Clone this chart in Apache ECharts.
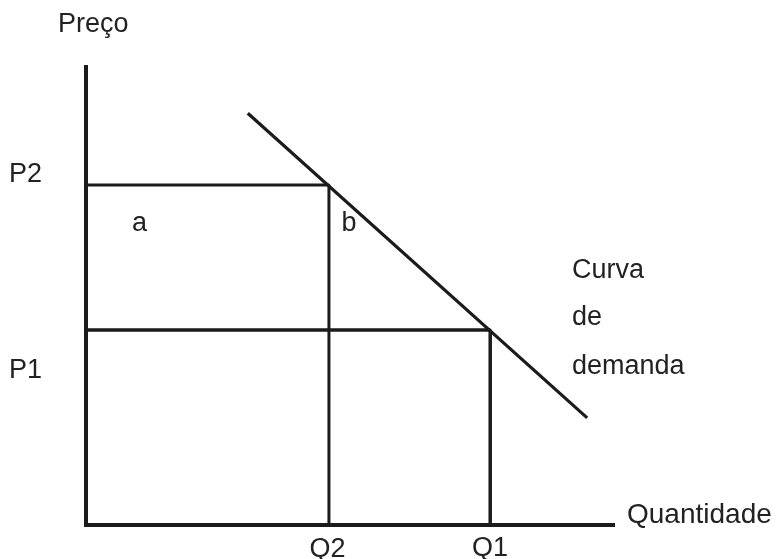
<!DOCTYPE html>
<html>
<head>
<meta charset="utf-8">
<script src="https://cdn.jsdelivr.net/npm/echarts@6/dist/echarts.min.js"></script>
<style>html,body{margin:0;padding:0;background:#fff;}#c{width:779px;height:559px;}</style>
</head>
<body>
<div id="c"></div>
<script>
// Quantities (x) and prices (y), in axis units 0..100
var quantities = { Q2: 46.1, Q1: 76.7 };
var prices = { P2: 74.2, P1: 42.5 };
var demandX = [30.7, 95.1];
var demandY = [89.9, 23.3];
var xLabels = ['Q2', 'Q1'];
var yLabels = ['P2', 'P1'];

var ink = '#1c1a1a';
var font = "'Liberation Sans', Arial, Helvetica, sans-serif";

function txt(text, x, y, align, size) {
  return {
    type: 'text', x: x, y: y, silent: true,
    style: { text: text, fill: '#222', font: (size || 27) + 'px ' + font,
             align: align || 'left', verticalAlign: 'middle' }
  };
}

var chart = echarts.init(document.getElementById('c'), null, { renderer: 'canvas' });
chart.setOption({
  animation: false,
  backgroundColor: '#fff',
  grid: { left: 86, right: 166, top: 67, bottom: 34.5, containLabel: false },
  xAxis: {
    type: 'value', min: 0, max: 100,
    axisLine: { show: true, lineStyle: { color: ink, width: 4, cap: 'square' } },
    axisTick: { show: false }, axisLabel: { show: false }, splitLine: { show: false }
  },
  yAxis: {
    type: 'value', min: 0, max: 100,
    axisLine: { show: true, lineStyle: { color: ink, width: 4, cap: 'square' } },
    axisTick: { show: false }, axisLabel: { show: false }, splitLine: { show: false }
  },
  series: [
    {
      type: 'line', symbol: 'none', silent: true,
      lineStyle: { color: ink, width: 3 },
      data: [[0, prices.P2], [quantities.Q2, prices.P2], [quantities.Q2, 0]]
    },
    {
      type: 'line', symbol: 'none', silent: true,
      lineStyle: { color: ink, width: 3.5 },
      data: [[0, prices.P1], [quantities.Q1, prices.P1], [quantities.Q1, 0]]
    },
    {
      type: 'line', symbol: 'none', silent: true,
      lineStyle: { color: ink, width: 3.2 },
      data: [[demandX[0], demandY[0]], [demandX[1], demandY[1]]]
    }
  ],
  graphic: [
    txt('Preço', 58, 25),
    txt(yLabels[0], 9, 175),
    txt(yLabels[1], 9, 371),
    txt('a', 139.5, 224, 'center'),
    txt('b', 349, 224, 'center'),
    txt('Curva', 572, 271),
    txt('de', 572, 318),
    txt('demanda', 572, 367),
    txt(xLabels[0], 327.5, 550, 'center'),
    txt(xLabels[1], 490, 549, 'center'),
    txt('Quantidade', 627, 515, 'left', 28)
  ]
});
</script>
</body>
</html>
